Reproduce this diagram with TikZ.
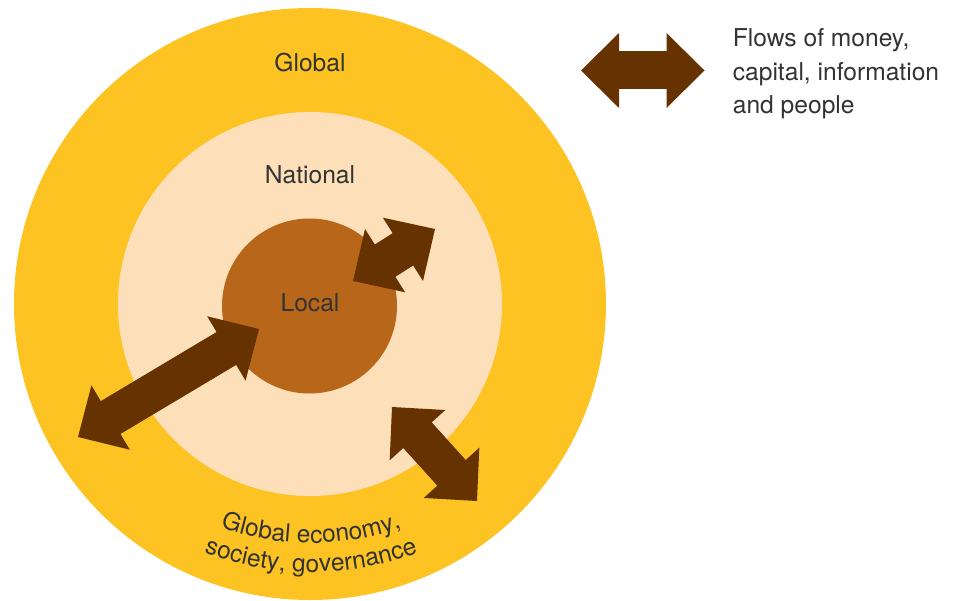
\documentclass[tikz,border=0pt]{standalone}
\usepackage{fontspec}
\setmainfont{TeX Gyre Heros}
\usepackage{tikz}
\usetikzlibrary{positioning,arrows.meta,decorations.text}
\definecolor{globalyellow}{HTML}{FDC322}
\definecolor{nationalpeach}{HTML}{FDDFB9}
\definecolor{localbrown}{HTML}{B8661A}
\definecolor{flowbrown}{HTML}{663300}
\definecolor{labelgray}{HTML}{333333}

\begin{document}
\begin{tikzpicture}[
    ring/.style={circle, inner sep=0pt},
    lbl/.style={text=labelgray, font=\fontsize{14}{19}\selectfont},
    flow/.style={draw=flowbrown, line width=0.76cm,
        >={Triangle[width=1.5cm, length=0.76cm, line width=0pt]}, <->,
        postaction={draw=flowbrown, line width=0.76cm, arrows=-,
            shorten <=0.6cm, shorten >=0.6cm}}
]
    \useasboundingbox (0,0) rectangle (19.18,-12.02);

    \node[ring, fill=globalyellow, minimum size=11.84cm] (global) at (6.2,-6.08) {};
    \node[ring, fill=nationalpeach, minimum size=7.68cm] (national) at (6.2,-6.08) {};
    \node[ring, fill=localbrown, minimum size=3.5cm] (local) at (6.19,-6.12) {};

    \node[lbl] (globaltext) at (6.2,-1.26) {Global};
    \node[lbl] (nationaltext) at (6.2,-3.5) {National};
    \node[lbl] (localtext) at (6.2,-6.06) {Local};

    \coordinate (outL) at (1.56,-8.74);
    \coordinate (outR) at (5.18,-6.58);
    \coordinate (upL) at (7.06,-5.62);
    \coordinate (upR) at (8.7,-4.58);
    \coordinate (downL) at (7.84,-8.14);
    \coordinate (downR) at (9.54,-10.02);
    \coordinate (legL) at (11.62,-1.41);
    \coordinate (legR) at (14.09,-1.41);

    \draw[flow] (outL) -- (outR);
    \draw[flow] (upL) -- (upR);
    \draw[flow] (downL) -- (downR);
    \draw[flow] (legL) -- (legR);

    \node[lbl, inner sep=0pt, align=left, right=0.56cm of legR, yshift=-0.07cm] (legend) {
        Flows of money,\\
        capital, information\\
        and people
    };

    \path[decorate, decoration={text along path, text align=center, text color=labelgray,
        text={|\fontsize{14}{19}\selectfont|Global economy,}}]
        (6.22,-5.3) ++(240:5.56) arc[start angle=240, end angle=300, radius=5.56];
    \path[decorate, decoration={text along path, text align=center, text color=labelgray,
        text={|\fontsize{14}{19}\selectfont|society, governance}}]
        (6.22,-5.3) ++(240:6.14) arc[start angle=240, end angle=300, radius=6.14];
\end{tikzpicture}
\end{document}
